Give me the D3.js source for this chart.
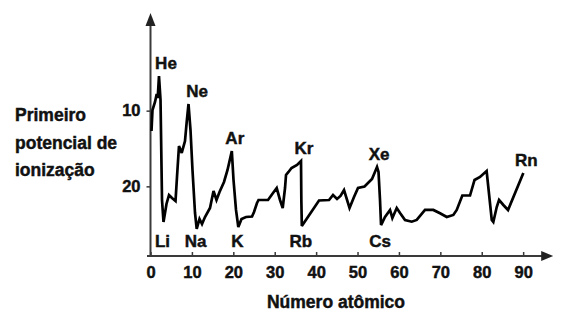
<!DOCTYPE html>
<html>
<head>
<meta charset="utf-8">
<script src="https://cdn.jsdelivr.net/npm/d3@7"></script>
<style>
  html, body { margin: 0; padding: 0; background: #fff; }
  svg { display: block; }
  text { font-family: "Liberation Sans", Arial, sans-serif; font-weight: bold; fill: #111; stroke: #111; stroke-width: 0.45px; }
</style>
</head>
<body>
<svg id="chart"></svg>
<script>
// numero atomico (as drawn)
var atomicNum = [0.24,0.48,1.09,1.50,1.74,2.05,2.42,2.78,3.14,3.86,4.47,5.19,6.04,6.40,6.88,7.54,8.33,8.74,9.18,9.66,
	10.14,10.75,11.16,11.84,12.44,13.16,14.37,15.22,15.94,16.67,17.75,18.60,19.64,20.05,20.65,21.21,21.98,23.07,24.52,25.00,
	25.72,26.09,28.38,29.59,30.48,31.28,31.93,32.49,32.73,33.33,34.06,35.39,36.35,36.43,36.55,40.70,43.12,44.08,45.05,45.89,
	46.74,48.07,49.15,50.12,51.69,53.50,54.71,55.07,55.43,55.68,56.64,57.85,58.41,59.47,60.27,61.47,63.09,64.30,66.30,68.31,
	69.93,71.55,73.14,73.96,75.31,77.17,78.26,79.59,81.18,82.42,82.80,83.62,84.18,85.22,86.35,90.05];
// primeiro potencial de ionizacao (axis units of the picture)
var potential = [12.69,9.91,8.86,7.80,8.33,5.42,8.59,21.80,24.71,22.33,21.14,21.54,21.93,18.76,14.67,15.59,14.01,11.50,9.12,12.56,
	17.84,23.52,25.63,24.31,24.97,24.05,22.86,20.61,21.80,20.75,19.42,17.84,15.33,19.16,23.12,25.37,24.31,24.05,23.98,23.39,
	22.20,21.80,21.80,20.88,20.22,21.80,22.86,20.22,18.50,18.10,17.58,17.18,16.65,21.80,25.24,21.87,21.80,21.14,21.67,21.27,
	20.48,22.86,21.41,20.22,20.02,19.03,17.44,18.10,21.80,25.11,24.05,23.12,24.18,22.86,23.52,24.44,24.67,24.44,23.12,23.12,
	23.56,24.05,23.78,23.12,21.21,21.21,19.16,18.76,17.97,24.44,24.71,22.73,21.80,22.46,23.12,18.24];

var nobleNames = ["He","Ne","Ar","Kr","Xe","Rn"];
var nobleIdx = [5,18,32,52,66,95];
var nobleNudge = [7,8.5,3,3,2,3];
var alkaliNames = ["Li","Na","K","Rb","Cs"];
var alkaliIdx = [8,22,35,54,69];

var xTicks = [0,10,20,30,40,50,60,70,80,90];
var yTicks = [10,20];
var yTitle = ["Primeiro","potencial de","ionização"];
var xTitle = "Número atômico";

var width = 561, height = 317;
var svg = d3.select("#chart").attr("width", width).attr("height", height);

var x = d3.scaleLinear().domain([0,97.5]).range([150.5,554.2]);
var y = d3.scaleLinear().domain([-2.9,29.2]).range([13,256]);
var x0 = x(0), yBase = y(29.2), yTop = y(-2.9), xEnd = x(97.5) - 1;

// eixos com setas
var ax = svg.append("g").attr("stroke","#3a3a3a").attr("stroke-width",2).attr("fill","none");
ax.append("line").attr("x1",x0).attr("x2",x0).attr("y1",yBase).attr("y2",yTop+10);
ax.append("line").attr("x1",x0-3.5).attr("x2",xEnd-10).attr("y1",yBase).attr("y2",yBase);
svg.append("path").attr("fill","#222")
	.attr("d","M"+x0+","+yTop+"L"+(x0-5)+","+(yTop+13)+"L"+(x0+5)+","+(yTop+13)+"Z");
svg.append("path").attr("fill","#222")
	.attr("d","M"+xEnd+","+yBase+"L"+(xEnd-12)+","+(yBase-5)+"L"+(xEnd-12)+","+(yBase+5)+"Z");

var gx = svg.append("g").attr("transform","translate(0,"+yBase+")")
	.call(d3.axisBottom(x).tickValues(xTicks).tickSize(-4).tickPadding(10.5));
gx.select(".domain").remove();
gx.selectAll("line").attr("stroke","#3a3a3a").attr("stroke-width",1.5);
gx.selectAll("text").attr("font-size",16.5).attr("fill","#111")
	.style("font-family","'Liberation Sans', Arial, sans-serif").style("font-weight","bold");

var gy = svg.append("g").attr("transform","translate("+x0+",0)")
	.call(d3.axisLeft(y).tickValues(yTicks).tickSize(4).tickPadding(6));
gy.select(".domain").remove();
gy.selectAll("line").attr("stroke","#3a3a3a").attr("stroke-width",1.5);
gy.selectAll("text").attr("font-size",16.5).attr("fill","#111")
	.style("font-family","'Liberation Sans', Arial, sans-serif").style("font-weight","bold");

// curva
var pts = atomicNum.map(function(d,i){ return [d, potential[i]]; });
svg.append("path").datum(pts)
	.attr("fill","none").attr("stroke","#000").attr("stroke-width",2.7)
	.attr("stroke-linejoin","miter").attr("stroke-miterlimit",3)
	.attr("d", d3.line().x(function(d){return x(d[0]);}).y(function(d){return y(d[1]);}));

// rotulos dos elementos
svg.selectAll(".noble").data(nobleNames).enter().append("text")
	.attr("class","noble").attr("font-size",17).attr("text-anchor","middle")
	.attr("x",function(d,i){ return x(atomicNum[nobleIdx[i]]) + nobleNudge[i]; })
	.attr("y",function(d,i){ return y(potential[nobleIdx[i]]) - 13; })
	.attr("dy","0.36em").text(function(d){return d;});
svg.selectAll(".alkali").data(alkaliNames).enter().append("text")
	.attr("class","alkali").attr("font-size",17).attr("text-anchor","middle")
	.attr("x",function(d,i){ return x(atomicNum[alkaliIdx[i]]) - 1; })
	.attr("y",yBase - 15.5)
	.attr("dy","0.36em").text(function(d){return d;});

// titulos
svg.append("text").attr("font-size",17.5).attr("text-anchor","middle")
	.attr("x",336).attr("y",302).attr("dy","0.36em").text(xTitle);
svg.append("g").selectAll("text").data(yTitle).enter().append("text")
	.attr("font-size",17.5).attr("x",15)
	.attr("y",function(d,i){ return 115 + i*27.2; }).attr("dy","0.36em")
	.text(function(d){return d;});
</script>
</body>
</html>
